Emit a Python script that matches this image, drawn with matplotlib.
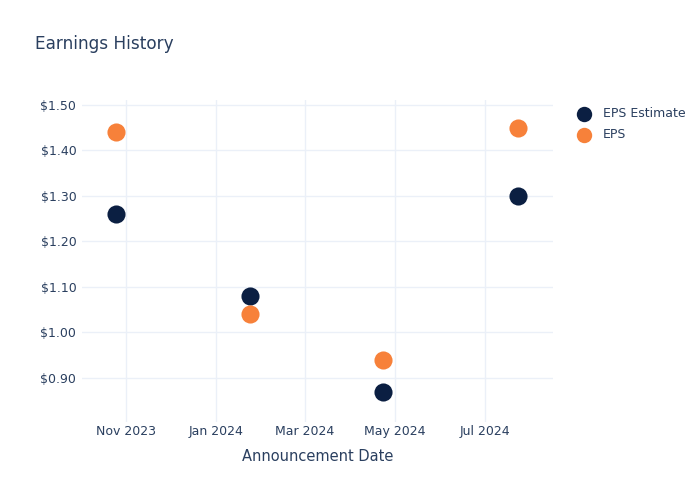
import matplotlib
matplotlib.use("Agg")
import matplotlib.pyplot as plt
import matplotlib.dates as mdates
import numpy as np

# Data
dates = np.array(["2023-10-25", "2024-01-24", "2024-04-23", "2024-07-23"], dtype="datetime64[D]")
eps_estimate = [1.26, 1.08, 0.87, 1.30]
eps_actual = [1.44, 1.04, 0.94, 1.45]
y_ticks = [0.90, 1.00, 1.10, 1.20, 1.30, 1.40, 1.50]
x_ticks = np.array(["2023-11-01", "2024-01-01", "2024-03-01", "2024-05-01", "2024-07-01"], dtype="datetime64[D]")

text_color = "#2a3f5f"
grid_color = "#ebf0f8"
navy = "#0b1f42"
orange = "#f7813a"

fig = plt.figure(figsize=(7, 5), dpi=100)
ax = fig.add_axes([0.117, 0.156, 0.673, 0.644])

ax.scatter(dates, eps_estimate, s=170, color=navy, label="EPS Estimate", zorder=3, linewidths=0)
ax.scatter(dates, eps_actual, s=170, color=orange, label="EPS", zorder=3, linewidths=0)

ax.set_xlim(np.datetime64("2023-10-02"), np.datetime64("2024-08-16"))
ax.set_ylim(0.803, 1.511)
ax.set_yticks(y_ticks)
ax.set_yticklabels([f"${v:.2f}" for v in y_ticks])
ax.set_xticks(x_ticks)
ax.xaxis.set_major_formatter(mdates.DateFormatter("%b %Y"))

ax.grid(True, color=grid_color, linewidth=1)
ax.set_axisbelow(True)
for s in ax.spines.values():
    s.set_visible(False)
ax.tick_params(length=0, labelsize=9, colors=text_color)
ax.tick_params(axis="x", pad=2)
ax.tick_params(axis="y", pad=4)

ax.set_xlabel("Announcement Date", fontsize=10.5, color=text_color, labelpad=8)
fig.text(0.05, 0.912, "Earnings History", fontsize=12.2, color=text_color, va="center")

leg = ax.legend(loc="upper left", bbox_to_anchor=(1.015, 1.012), frameon=False,
                fontsize=9, labelcolor=text_color, handletextpad=0.55,
                labelspacing=0.6, markerscale=0.85)

fig.savefig("out.png", dpi=100)
